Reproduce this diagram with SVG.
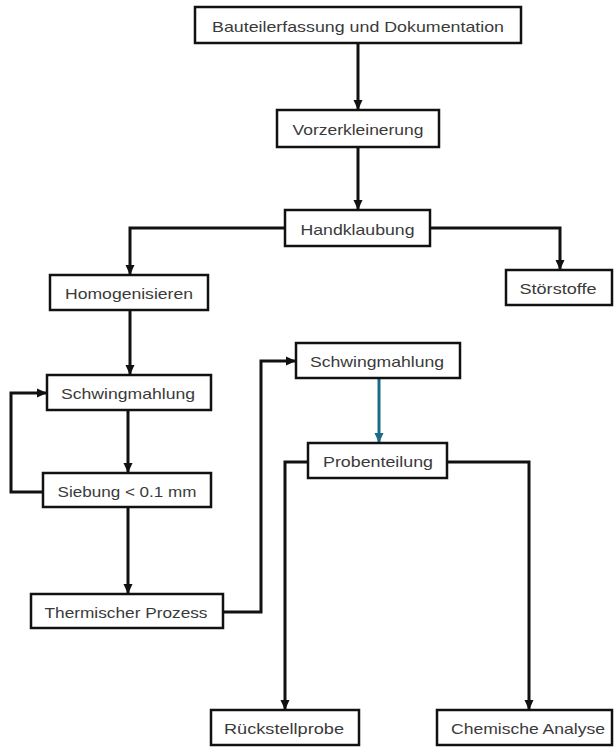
<svg xmlns="http://www.w3.org/2000/svg" width="614" height="747" viewBox="0 0 614 747">
<style>
  .box { fill: #ffffff; stroke: #111111; stroke-width: 2.5; }
  .lbl { font-family: "Liberation Sans", Arial, sans-serif; font-size: 15px; fill: #3a3a3a; text-anchor: middle; }
  .con { fill: none; stroke: #111111; stroke-width: 3; stroke-linejoin: miter; }
  .con-blue { fill: none; stroke: #1c6b85; stroke-width: 3; }
</style>
<defs>
  <marker id="arr" markerUnits="userSpaceOnUse" markerWidth="10" markerHeight="10" refX="10" refY="5" orient="auto">
    <path d="M0,0.5 L10,5 L0,9.5 z" fill="#111111"/>
  </marker>
  <marker id="arrBlue" markerUnits="userSpaceOnUse" markerWidth="10" markerHeight="10" refX="10" refY="5" orient="auto">
    <path d="M0,0.5 L10,5 L0,9.5 z" fill="#1c6b85"/>
  </marker>
</defs>
<rect width="614" height="747" fill="#ffffff"/>
<g id="connectors">
  <path class="con" d="M358,43 V110" marker-end="url(#arr)"/>
  <path class="con" d="M358,147 V210" marker-end="url(#arr)"/>
  <path class="con" d="M285,228 H130 V275" marker-end="url(#arr)"/>
  <path class="con" d="M430,228 H560 V270" marker-end="url(#arr)"/>
  <path class="con" d="M130,310 V375" marker-end="url(#arr)"/>
  <path class="con" d="M128,410 V473" marker-end="url(#arr)"/>
  <path class="con" d="M43,492 H11 V393 H47" marker-end="url(#arr)"/>
  <path class="con" d="M128,507 V594" marker-end="url(#arr)"/>
  <path class="con" d="M223,612 H261 V361 H296" marker-end="url(#arr)"/>
  <path class="con-blue" d="M379,378 V443" marker-end="url(#arrBlue)"/>
  <path class="con" d="M308,462 H285 V710" marker-end="url(#arr)"/>
  <path class="con" d="M447,462 H529 V710" marker-end="url(#arr)"/>
</g>
<g id="n-bauteil">
  <rect class="box" x="195" y="7" width="326" height="36"/>
  <text class="lbl" x="358" y="32" textLength="292" lengthAdjust="spacingAndGlyphs">Bauteilerfassung und Dokumentation</text>
</g>
<g id="n-vorz">
  <rect class="box" x="277" y="110" width="162" height="37"/>
  <text class="lbl" x="358" y="135" textLength="131" lengthAdjust="spacingAndGlyphs">Vorzerkleinerung</text>
</g>
<g id="n-hand">
  <rect class="box" x="285" y="210" width="145" height="36"/>
  <text class="lbl" x="357.5" y="235" textLength="114" lengthAdjust="spacingAndGlyphs">Handklaubung</text>
</g>
<g id="n-homog">
  <rect class="box" x="50" y="275" width="158" height="35"/>
  <text class="lbl" x="129" y="299" textLength="128" lengthAdjust="spacingAndGlyphs">Homogenisieren</text>
</g>
<g id="n-stoer">
  <rect class="box" x="506" y="270" width="106" height="35"/>
  <text class="lbl" x="558" y="294" textLength="77" lengthAdjust="spacingAndGlyphs">Störstoffe</text>
</g>
<g id="n-schwing1">
  <rect class="box" x="47" y="375" width="164" height="35"/>
  <text class="lbl" x="128" y="399" textLength="134" lengthAdjust="spacingAndGlyphs">Schwingmahlung</text>
</g>
<g id="n-sieb">
  <rect class="box" x="43" y="473" width="168" height="34"/>
  <text class="lbl" x="127" y="497" textLength="139" lengthAdjust="spacingAndGlyphs">Siebung &lt; 0.1 mm</text>
</g>
<g id="n-therm">
  <rect class="box" x="31" y="594" width="192" height="34"/>
  <text class="lbl" x="126" y="618" textLength="163" lengthAdjust="spacingAndGlyphs">Thermischer Prozess</text>
</g>
<g id="n-schwing2">
  <rect class="box" x="296" y="343" width="164" height="35"/>
  <text class="lbl" x="377" y="367" textLength="134" lengthAdjust="spacingAndGlyphs">Schwingmahlung</text>
</g>
<g id="n-proben">
  <rect class="box" x="308" y="443" width="139" height="35"/>
  <text class="lbl" x="378" y="467" textLength="110" lengthAdjust="spacingAndGlyphs">Probenteilung</text>
</g>
<g id="n-rueck">
  <rect class="box" x="211" y="710" width="148" height="35"/>
  <text class="lbl" x="284" y="734" textLength="120" lengthAdjust="spacingAndGlyphs">Rückstellprobe</text>
</g>
<g id="n-chem">
  <rect class="box" x="437" y="710" width="175" height="35"/>
  <text class="lbl" x="528" y="734" textLength="154" lengthAdjust="spacingAndGlyphs">Chemische Analyse</text>
</g>
</svg>
